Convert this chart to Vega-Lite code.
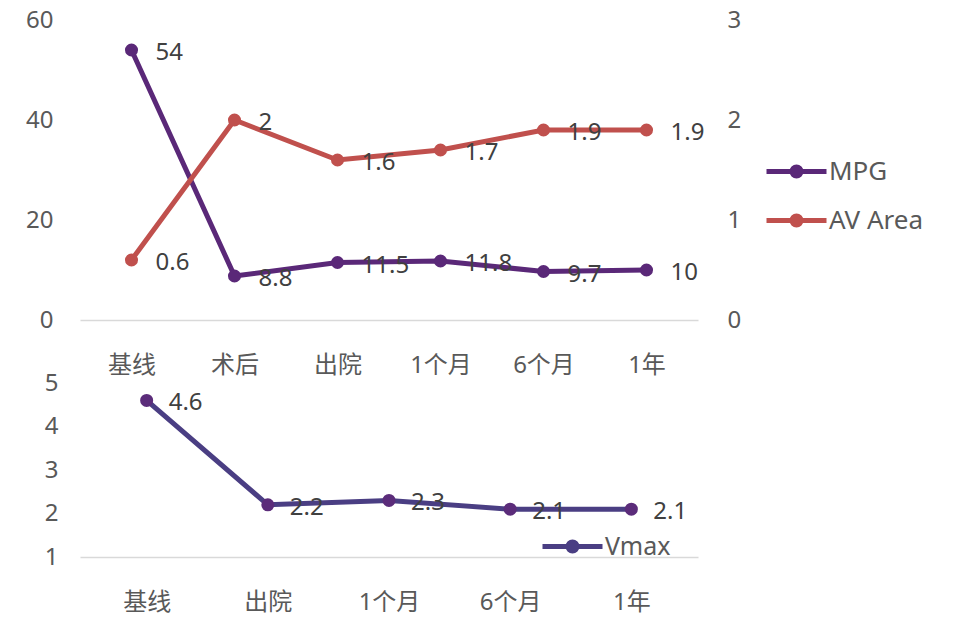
{
  "$schema": "https://vega.github.io/schema/vega-lite/v6.json",
  "background": "white",
  "padding": {"left": 25, "top": 8, "right": 5, "bottom": 5},
  "config": {
    "view": {"stroke": null},
    "font": "Noto Sans, Noto Sans CJK SC",
    "axis": {"grid": false, "ticks": false, "labelFontSize": 24, "labelColor": "#595959", "labelFont": "Noto Sans, Noto Sans CJK SC", "title": null, "domainColor": "#D9D9D9", "domainWidth": 1.5},
    "legend": {"labelFontSize": 26, "labelColor": "#595959", "labelFont": "Noto Sans, Noto Sans CJK SC", "title": null, "symbolType": "M-1,0H1M-0.15,0A0.15,0.15,0,1,1,0.15,0A0.15,0.15,0,1,1,-0.15,0M-0.05,0A0.05,0.05,0,1,1,0.05,0A0.05,0.05,0,1,1,-0.05,0", "symbolSize": 3600, "symbolStrokeWidth": 5, "labelOffset": 0, "orient": "none"}
  },
  "bounds": "flush",
  "spacing": 63,
  "resolve": {"scale": {"color": "independent"}, "legend": {"color": "independent"}},
  "vconcat": [
    {
      "width": 618,
      "height": 300,
      "data": {"values": [
        {"stage": "基线", "series": "MPG", "value": 54},
        {"stage": "术后", "series": "MPG", "value": 8.8},
        {"stage": "出院", "series": "MPG", "value": 11.5},
        {"stage": "1个月", "series": "MPG", "value": 11.8},
        {"stage": "6个月", "series": "MPG", "value": 9.7},
        {"stage": "1年", "series": "MPG", "value": 10},
        {"stage": "基线", "series": "AV Area", "value": 0.6},
        {"stage": "术后", "series": "AV Area", "value": 2},
        {"stage": "出院", "series": "AV Area", "value": 1.6},
        {"stage": "1个月", "series": "AV Area", "value": 1.7},
        {"stage": "6个月", "series": "AV Area", "value": 1.9},
        {"stage": "1年", "series": "AV Area", "value": 1.9}
      ]},
      "encoding": {
        "x": {"field": "stage", "type": "nominal", "sort": ["基线", "术后", "出院", "1个月", "6个月", "1年"], "scale": {"type": "point", "padding": 0.5}, "axis": {"labelAngle": 0, "labelPadding": 33}},
        "color": {"field": "series", "type": "nominal", "scale": {"domain": ["MPG", "AV Area"], "range": ["#5A2878", "#C0504D"]}, "legend": {"legendX": 684, "legendY": 119, "rowPadding": 2}}
      },
      "layer": [
        {
          "transform": [{"filter": "datum.series === 'MPG'"}],
          "encoding": {"y": {"field": "value", "type": "quantitative", "scale": {"domain": [0, 60]}, "axis": {"orient": "left", "values": [0, 20, 40, 60], "domain": false, "labelPadding": 27}}},
          "layer": [
            {"mark": {"type": "line", "strokeWidth": 5, "point": {"filled": true, "size": 170}}},
            {"mark": {"type": "text", "align": "left", "baseline": "middle", "dx": 24, "dy": 3, "fontSize": 24}, "encoding": {"text": {"field": "value", "type": "quantitative"}, "color": {"value": "#404040"}}}
          ]
        },
        {
          "transform": [{"filter": "datum.series === 'AV Area'"}],
          "encoding": {"y": {"field": "value", "type": "quantitative", "scale": {"domain": [0, 3]}, "axis": {"orient": "right", "values": [0, 1, 2, 3], "domain": false, "labelPadding": 29}}},
          "layer": [
            {"mark": {"type": "line", "strokeWidth": 5, "point": {"filled": true, "size": 170}}},
            {"mark": {"type": "text", "align": "left", "baseline": "middle", "dx": 24, "dy": 3, "fontSize": 24}, "encoding": {"text": {"field": "value", "type": "quantitative"}, "color": {"value": "#404040"}}}
          ]
        }
      ],
      "resolve": {"scale": {"y": "independent"}}
    },
    {
      "width": 618,
      "height": 174,
      "data": {"values": [
        {"stage": "基线", "series": "Vmax", "value": 4.6},
        {"stage": "出院", "series": "Vmax", "value": 2.2},
        {"stage": "1个月", "series": "Vmax", "value": 2.3},
        {"stage": "6个月", "series": "Vmax", "value": 2.1},
        {"stage": "1年", "series": "Vmax", "value": 2.1}
      ]},
      "encoding": {
        "x": {"field": "stage", "type": "nominal", "sort": ["基线", "出院", "1个月", "6个月", "1年"], "scale": {"type": "point", "padding": 0.55}, "axis": {"labelAngle": 0, "labelPadding": 33}},
        "y": {"field": "value", "type": "quantitative", "scale": {"domain": [1, 5]}, "axis": {"values": [1, 2, 3, 4, 5], "domain": false, "labelPadding": 22}}
      },
      "layer": [
        {"mark": {"type": "line", "strokeWidth": 5}, "encoding": {"color": {"field": "series", "type": "nominal", "scale": {"domain": ["Vmax"], "range": ["#4A3E83"]}, "legend": {"legendX": 460, "legendY": 131, "labelFontSize": 25}}}},
        {"mark": {"type": "point", "filled": true, "size": 170, "opacity": 1, "color": "#5B2C7A"}},
        {"mark": {"type": "text", "align": "left", "baseline": "middle", "dx": 22, "dy": 3, "fontSize": 24, "color": "#404040"}, "encoding": {"text": {"field": "value", "type": "quantitative"}}}
      ]
    }
  ]
}
